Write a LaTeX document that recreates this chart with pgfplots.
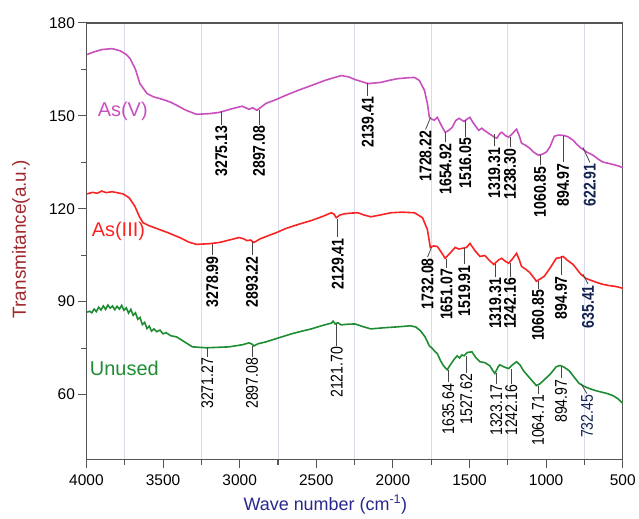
\documentclass[border=0pt]{standalone}
\usepackage{fontspec}
\setmainfont{Liberation Sans}
\usepackage{pgfplots}
\pgfplotsset{compat=1.18}

\definecolor{cV}{RGB}{200,80,190}
\definecolor{cIII}{RGB}{250,35,35}
\definecolor{cU}{RGB}{30,140,50}
\definecolor{grd}{RGB}{218,218,238}
\definecolor{frm}{RGB}{85,85,85}
\definecolor{lead}{RGB}{70,70,70}
\definecolor{navy}{RGB}{20,35,80}
\definecolor{ylab}{RGB}{160,40,45}
\definecolor{xlab}{RGB}{40,40,140}

% bold label: [colour]{x1}{y1}{x2}{y2}{text}
\newcommand{\lab}[6][black]{%
 \draw[lead, line width=0.8pt] (axis cs:#2,#3) -- (axis cs:#4,#5);
 \node[rotate=90, anchor=east, inner sep=1pt, text=#1] at (axis cs:#4,#5) {\scalebox{0.83}[1]{\fontsize{17}{17}\selectfont\bfseries #6}};
}
% regular label
\newcommand{\labr}[6][black]{%
 \draw[lead, line width=0.8pt] (axis cs:#2,#3) -- (axis cs:#4,#5);
 \node[rotate=90, anchor=east, inner sep=1pt, text=#1] at (axis cs:#4,#5) {\scalebox{0.83}[1]{\fontsize{17}{17}\selectfont #6}};
}

\begin{document}
\begin{tikzpicture}
\begin{axis}[
 scale only axis, width=538pt, height=438pt,
 x dir=reverse, xmin=500, xmax=4000, ymin=39, ymax=180,
 xtick={500,1000,...,4000}, ytick={60,90,...,180},
 minor x tick num=1, minor y tick num=1,
 xminorgrids, minor x grid style={grd, line width=0.8pt},
 axis line style={frm, line width=1.3pt},
 tick style={frm, line width=1.1pt},
 tick align=outside,
 major tick length=8pt, minor tick length=5pt,
 xtick pos=bottom, ytick pos=left,
 tick label style={font=\fontsize{15.5}{15.5}\selectfont},
 xticklabel style={yshift=-4pt},
 /pgf/number format/assume math mode=true,
 /pgf/number format/set thousands separator={},
 xlabel={Wave number (cm\textsuperscript{-1})},
 xlabel style={text=xlab, font=\fontsize{18}{18}\selectfont, at={(axis description cs:0.4455,-0.103)}, anchor=center},
 ylabel={Transmitance(a.u.)},
 ylabel style={text=ylab, font=\fontsize{19}{19}\selectfont, at={(axis description cs:-0.122,0.505)}, anchor=center},
]
% As(V)
\addplot[cV, line width=1.6pt] coordinates {
(3995,169.8) (3960,170.5) (3900,171.4) (3832,171.7) (3780,171.0) (3740,169.8) (3715,168.5) (3680,165) (3651,160.4) (3605,157.2) (3560,156.1) (3502,155.3) (3450,154.4) (3411,153.4) (3350,151.8) (3282,150.5) (3200,150.7) (3133,151.1) (3050,152.3) (2985,153.1) (2960,152.6) (2939,152.1) (2915,152.6) (2888,151.8) (2860,152.8) (2829,154.0) (2760,155.3) (2700,156.6) (2620,158.2) (2532,159.8) (2440,161.5) (2338,163.0) (2290,162.6) (2247,161.7) (2200,161.0) (2163,160.4) (2120,160.6) (2079,160.8) (2020,161.5) (1969,162.0) (1900,162.3) (1859,162.4) (1827,161.4) (1794,158.2) (1775,154) (1762,149.5) (1745,148.9) (1730,148.6) (1710,149.5) (1685,147) (1659,144.7) (1635,145.3) (1613,146.3) (1590,148.5) (1568,149.2) (1550,148.6) (1536,148.2) (1515,149.0) (1497,149.5) (1480,148.0) (1465,147.0) (1440,145.3) (1420,146.0) (1406,145.4) (1380,144.5) (1355,143.7) (1335,143.0) (1322,142.8) (1300,144.4) (1290,144.7) (1265,143.6) (1245,143.1) (1220,144.3) (1193,145.7) (1175,143.5) (1161,141.2) (1135,140.5) (1109,139.6) (1080,138.2) (1051,137.3) (1025,137.6) (999,138.3) (975,140.0) (947,143.4) (920,143.8) (889,143.7) (860,143.3) (824,142.1) (800,140.8) (773,139.6) (735,138.3) (695,137.3) (660,136.0) (631,135.1) (580,134.5) (527,133.8) (500,133.2)
};
% As(III)
\addplot[cIII, line width=1.6pt] coordinates {
(3995,124.8) (3960,125.3) (3930,125.0) (3900,125.7) (3870,125.2) (3832,125.5) (3761,124.8) (3720,123.5) (3683,120.7) (3655,117.5) (3631,115.5) (3590,114.5) (3541,113.6) (3470,112.3) (3392,110.7) (3330,109.2) (3282,108.5) (3200,108.7) (3133,109.1) (3060,110.0) (3004,110.7) (2975,110.3) (2952,109.7) (2930,109.9) (2907,109.1) (2870,110.2) (2829,111.0) (2760,112.3) (2700,113.6) (2620,114.9) (2532,116.2) (2460,117.5) (2402,118.7) (2385,118.3) (2370,117.1) (2345,118.0) (2312,118.4) (2270,118.6) (2228,118.7) (2190,118.0) (2144,117.4) (2080,118.0) (2014,118.7) (1940,118.9) (1859,118.7) (1807,117.1) (1775,113.3) (1756,107.5) (1735,108.0) (1710,107.8) (1685,106.0) (1659,104.0) (1630,105.5) (1594,107.5) (1570,107.0) (1549,107.2) (1520,107.5) (1497,108.8) (1465,106.5) (1432,104.6) (1400,104.9) (1370,103.3) (1342,102.0) (1310,103.5) (1290,104.0) (1265,103.0) (1245,102.4) (1220,103.8) (1193,105.6) (1175,103.5) (1161,101.4) (1135,100.5) (1109,99.5) (1085,98.0) (1064,96.6) (1040,97.3) (1012,98.2) (975,100.8) (934,104.0) (910,104.2) (889,104.6) (860,103.3) (824,102.0) (800,100.5) (773,98.8) (740,97.5) (708,96.9) (670,96.2) (631,95.6) (590,95.2) (560,95.0) (527,94.7) (500,94.3)
};
% Unused
\addplot[cU, line width=1.6pt] coordinates {
(3995,86.6) (3980,86.9) (3965,86.4) (3950,87.6) (3935,86.8) (3920,88.2) (3905,87.3) (3890,88.6) (3875,87.5) (3860,88.9) (3845,87.9) (3830,88.6) (3815,87.4) (3800,88.5) (3785,87.6) (3770,88.8) (3755,87.2) (3740,88.0) (3725,86.3) (3710,87.5) (3695,85.6) (3680,86.4) (3665,84.3) (3650,84.9) (3635,82.6) (3620,83.3) (3605,81.3) (3590,82.1) (3575,80.5) (3560,81.2) (3541,80.3) (3520,80.8) (3500,79.6) (3480,80.0) (3450,79.0) (3411,78.6) (3360,77.0) (3308,75.4) (3217,75.1) (3069,75.4) (2980,76.1) (2939,76.7) (2920,76.3) (2907,75.7) (2880,76.4) (2829,77.0) (2740,78.4) (2661,79.6) (2600,80.4) (2532,81.2) (2460,82.3) (2400,83.1) (2390,83.7) (2377,82.8) (2360,83.2) (2338,82.5) (2300,82.7) (2247,82.8) (2200,82.0) (2144,81.2) (2050,81.6) (1960,81.9) (1885,82.2) (1850,81.8) (1820,80.6) (1790,78.6) (1762,75.7) (1745,75.0) (1730,74.1) (1710,73.2) (1690,71.0) (1670,69.3) (1646,68.0) (1620,70.0) (1600,71.4) (1581,72.5) (1565,71.8) (1550,72.8) (1536,72.5) (1515,73.6) (1484,73.8) (1460,72.0) (1432,70.6) (1400,70.3) (1368,69.3) (1345,67.5) (1335,66.8) (1315,68.8) (1303,69.6) (1275,68.9) (1245,68.4) (1220,69.6) (1193,70.6) (1170,69.5) (1148,67.7) (1110,65.5) (1064,62.9) (1040,63.5) (1012,64.8) (975,66.5) (934,69.0) (910,69.4) (889,69.0) (870,68.4) (850,67.7) (820,65.8) (785,63.6) (750,62.6) (721,62.0) (680,61.3) (631,60.7) (600,60.3) (566,59.7) (530,58.6) (514,57.8) (500,57.2)
};
% series names
\node[anchor=west, inner sep=0pt, text=cV, font=\fontsize{20}{20}\selectfont] at (axis cs:3927,151.4) {As(V)};
\node[anchor=west, inner sep=0pt, text=cIII, font=\fontsize{20}{20}\selectfont] at (axis cs:3966,112.8) {As(III)};
\node[anchor=west, inner sep=0pt, text=cU, font=\fontsize{20}{20}\selectfont] at (axis cs:3978,68.4) {Unused};
% As(V) peaks
\lab{3120}{151.4}{3120}{147.2}{3275.13}
\lab{2873}{152.0}{2873}{147.2}{2897.08}
\lab{2164}{160.7}{2164}{156.5}{2139.41}
\lab{1755}{149.4}{1787}{145.6}{1728.22}
\lab{1657}{144.9}{1657}{141.4}{1654.92}
\lab{1527}{148.5}{1527}{143.3}{1516.05}
\lab{1339}{144.0}{1339}{140.1}{1319.31}
\lab{1235}{143.3}{1235}{139.8}{1238.30}
\lab{1040}{137.5}{1040}{134.0}{1060.85}
\lab{890}{143.6}{890}{135.0}{894.97}
\lab[navy]{760}{139.8}{715}{135.0}{622.91}
% As(III) peaks
\lab{3179}{108.6}{3179}{105.0}{3278.99}
\lab{2919}{109.2}{2919}{105.0}{2893.22}
\lab{2360}{116.6}{2360}{110.8}{2129.41}
\lab{1748}{107.6}{1774}{104.4}{1732.08}
\lab{1650}{103.8}{1650}{100.9}{1651.07}
\lab{1534}{107.3}{1534}{102.1}{1519.91}
\lab{1332}{102.1}{1332}{98.0}{1319.31}
\lab{1235}{102.5}{1235}{98.0}{1242.16}
\lab{1053}{96.7}{1053}{94.1}{1060.85}
\lab{903}{104.7}{903}{98.6}{894.97}
\lab[navy]{760}{98.9}{727}{95.7}{635.41}
% Unused peaks
\labr{3211}{75.1}{3211}{72.2}{3271.27}
\labr{2919}{75.8}{2919}{72.2}{2897.08}
\labr{2366}{82.8}{2366}{75.8}{2121.70}
\labr{1638}{68.0}{1638}{63.9}{1635.64}
\labr{1521}{72.5}{1521}{67.1}{1527.62}
\labr{1326}{66.8}{1326}{63.5}{1323.17}
\labr{1228}{68.4}{1228}{63.5}{1242.16}
\labr{1053}{62.9}{1053}{60.3}{1064.71}
\labr{903}{69.0}{903}{65.2}{894.97}
\labr[navy]{773}{63.5}{734}{60.3}{732.45}
\end{axis}
\path (-86.7pt,-59pt) rectangle (552.3pt,461pt);
\end{tikzpicture}
\end{document}
